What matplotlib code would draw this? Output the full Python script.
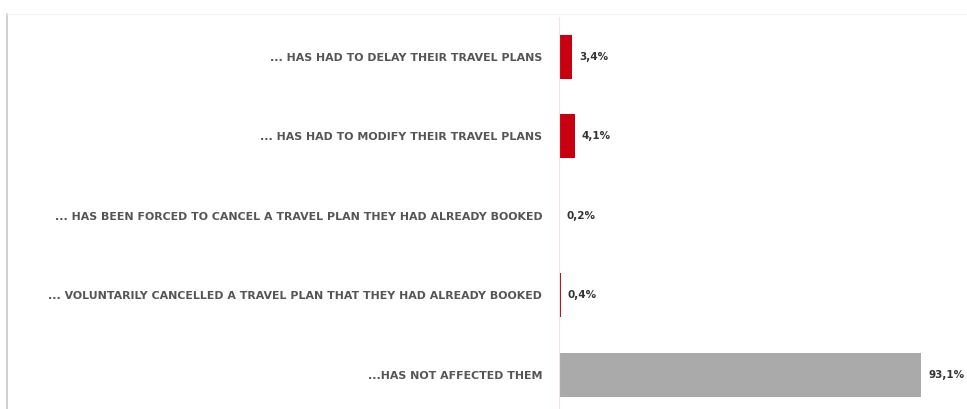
import numpy as np
import matplotlib.pyplot as plt
from matplotlib.lines import Line2D

# answers and shares (%)
categories = [
    "... HAS HAD TO DELAY THEIR TRAVEL PLANS",
    "... HAS HAD TO MODIFY THEIR TRAVEL PLANS",
    "... HAS BEEN FORCED TO CANCEL A TRAVEL PLAN THEY HAD ALREADY BOOKED",
    "... VOLUNTARILY CANCELLED A TRAVEL PLAN THAT THEY HAD ALREADY BOOKED",
    "...HAS NOT AFFECTED THEM",
]
values = [3.4, 4.1, 0.2, 0.4, 93.1]
value_labels = ["3,4%", "4,1%", "0,2%", "0,4%", "93,1%"]
bar_colors = ["#c8000f", "#c8000f", "#c8000f", "#c8000f", "#aaaaaa"]

fig = plt.figure(figsize=(9.67, 4.09), dpi=100)
ax = fig.add_axes([559 / 967, 0, (948 - 559) / 967, 1 - 17 / 409])

y = np.arange(len(categories))
ax.barh(y, values, height=0.55, color=bar_colors)
ax.set_xlim(0, 100)
ax.set_ylim(4.43, -0.5)

for yi, v, lab in zip(y, values, value_labels):
    ax.text(v + 1.8, yi, lab, va="center", ha="left", fontsize=7.5,
            fontweight="bold", color="#333333")

ax.set_yticks(y)
ax.set_yticklabels(categories, fontsize=7.9, color="#555555", fontweight="bold")
ax.tick_params(axis="y", length=0, pad=12)
ax.set_xticks([])

for s in ["top", "right", "bottom"]:
    ax.spines[s].set_visible(False)
ax.spines["left"].set_color("#f2e4e6")
ax.spines["left"].set_linewidth(0.8)

# outer frame line on the left and faint top line
fig.add_artist(Line2D([7 / 967, 7 / 967], [0, 1 - 14 / 409], color="#c8c8c8", lw=1.2))
fig.add_artist(Line2D([7 / 967, 1], [1 - 14 / 409, 1 - 14 / 409], color="#f4f4f4", lw=0.8))

fig.savefig("out.png", dpi=100)
